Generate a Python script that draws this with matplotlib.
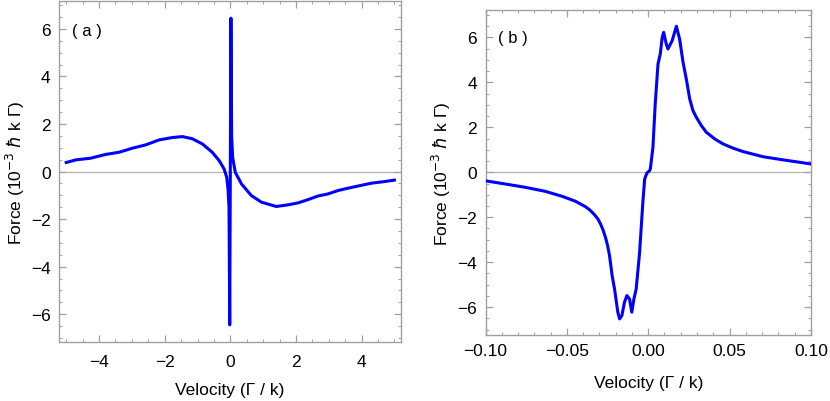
import numpy as np
import matplotlib.pyplot as plt
from matplotlib.ticker import MultipleLocator

# panel (a): wide velocity range, force in units of 1e-3 hbar k Gamma
vel_a = [-5.0, -4.71, -4.26, -3.80, -3.39, -2.99, -2.58, -2.17, -1.77, -1.46,
         -1.16, -0.85, -0.55, -0.34, -0.19, -0.11, -0.07, -0.04, -0.018,
         0.018, 0.04, 0.07, 0.15, 0.34, 0.64, 0.95, 1.40, 1.76, 2.06, 2.37,
         2.67, 2.98, 3.28, 3.59, 3.89, 4.30, 4.71, 5.0]
force_a = [0.38, 0.49, 0.56, 0.72, 0.81, 0.98, 1.12, 1.33, 1.43, 1.47,
           1.38, 1.16, 0.81, 0.46, 0.11, -0.24, -0.73, -1.5, -6.45,
           6.45, 1.5, 0.6, -0.03, -0.52, -1.01, -1.29, -1.47, -1.40, -1.32, -1.18,
           -1.03, -0.94, -0.80, -0.70, -0.61, -0.49, -0.42, -0.36]

# panel (b): zoom on the narrow central structure
vel_b = [-0.100, -0.088, -0.0755, -0.0632, -0.0529, -0.0447, -0.0386, -0.036,
         -0.0335, -0.031, -0.0293, -0.0278, -0.0263, -0.025, -0.0238, -0.0222,
         -0.0207, -0.0187, -0.0176, -0.0162, -0.0146, -0.0131, -0.0115, -0.0101,
         -0.0088, -0.0074, -0.0053, -0.0033, -0.0022, -0.0008, 0.0008, 0.0013,
         0.0029, 0.0043, 0.0060, 0.0074, 0.0086, 0.0095, 0.0111, 0.0121,
         0.0147, 0.0173, 0.0193, 0.0214, 0.0234, 0.0255, 0.0275, 0.0296,
         0.0327, 0.0357, 0.0409, 0.046, 0.0522, 0.0583, 0.0706, 0.083, 0.100]
force_b = [-0.38, -0.52, -0.67, -0.85, -1.07, -1.29, -1.53, -1.67,
           -1.85, -2.07, -2.30, -2.56, -2.89, -3.25, -3.70, -4.59,
           -5.19, -6.22, -6.52, -6.37, -5.78, -5.48, -5.63, -6.22,
           -5.63, -5.19, -3.56, -1.33, -0.30, -0.03, 0.07, 0.15,
           1.11, 3.04, 4.81, 5.26, 6.00, 6.22, 5.70, 5.48,
           5.85, 6.49, 5.92, 4.89, 4.15, 3.26, 2.74, 2.44,
           2.07, 1.78, 1.48, 1.26, 1.07, 0.92, 0.69, 0.55, 0.37]

plt.rcParams['font.family'] = ['Liberation Sans', 'DejaVu Sans']
plt.rcParams['mathtext.fontset'] = 'dejavusans'

frame = '#a0a0a0'
ylab = r"Force (10$^{-3}$ $\hbar$ k Γ)"
xlab = "Velocity (Γ / k)"

fig = plt.figure(figsize=(8.3, 4.02), dpi=100)
ax1 = fig.add_axes([0.0711, 0.1468, 0.412, 0.848])
ax2 = fig.add_axes([0.585, 0.165, 0.392, 0.808])


def style(ax, xmaj, xmin, label, xpad, lpad):
    for s in ax.spines.values():
        s.set_color(frame)
        s.set_linewidth(1.0)
    ax.axhline(0, color='#b4b4b4', lw=0.9, zorder=1)
    ax.xaxis.set_major_locator(MultipleLocator(xmaj))
    ax.xaxis.set_minor_locator(MultipleLocator(xmin))
    ax.yaxis.set_major_locator(MultipleLocator(2))
    ax.yaxis.set_minor_locator(MultipleLocator(0.5))
    ax.tick_params(which='both', direction='in', top=True, right=True,
                   color=frame, labelsize=12.5, labelcolor='black')
    ax.tick_params(which='major', length=5, width=0.9, pad=6)
    ax.tick_params(which='minor', length=2.5, width=0.7)
    ax.tick_params(axis='x', which='major', pad=xpad)
    ax.set_xlabel(xlab, fontsize=12.5, labelpad=lpad)
    ax.set_ylabel(ylab, fontsize=12.5, labelpad=3)
    ax.text(0.038, 0.915, label, transform=ax.transAxes, fontsize=12,
            va='center', ha='left')


ax1.plot(vel_a, force_a, color='#0000ff', lw=2.2, zorder=3)
ax1.set_xlim(-5.22, 5.2)
ax1.set_ylim(-7.17, 7.17)
style(ax1, 2, 0.5, "( a )", 9, 9)

ax2.plot(vel_b, force_b, color='#0000ff', lw=2.2, zorder=3)
ax2.set_xlim(-0.1, 0.1)
ax2.set_ylim(-7.22, 7.22)
ax2.xaxis.set_major_formatter(plt.FuncFormatter(lambda v, p: f"{v:.2f}".replace('-', '\u2212')))
style(ax2, 0.05, 0.01, "( b )", 6, 12)

fig.savefig("out.png", dpi=100)
